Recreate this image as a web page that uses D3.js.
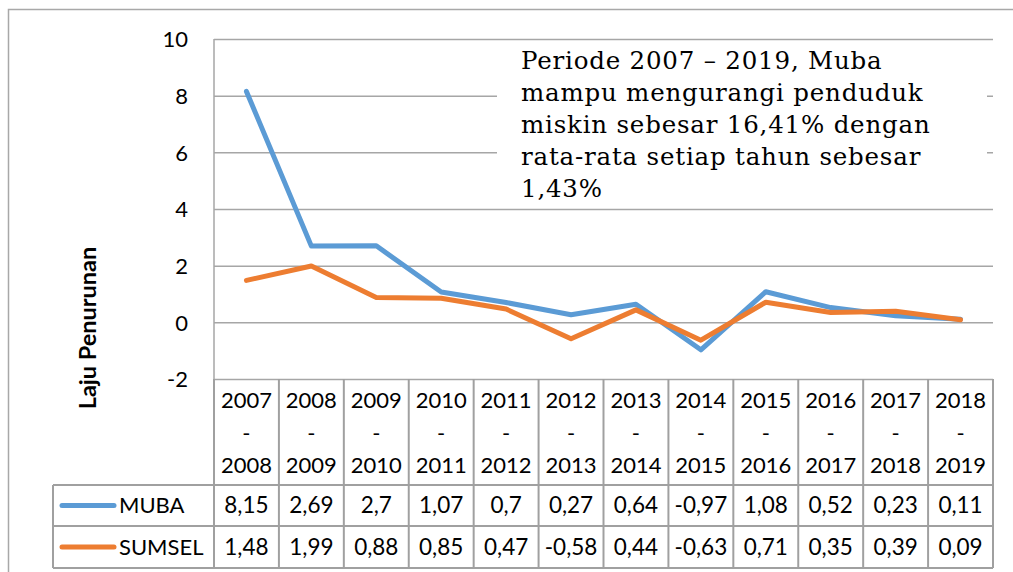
<!DOCTYPE html>
<html>
<head>
<meta charset="utf-8">
<script src="https://cdn.jsdelivr.net/npm/d3@7/dist/d3.min.js"></script>
<style>
  html, body { margin: 0; padding: 0; background: #fff; }
  svg { display: block; }
</style>
</head>
<body>
<svg id="chart" width="1013" height="572"></svg>
<script>
const periodStart = ["2007","2008","2009","2010","2011","2012","2013","2014","2015","2016","2017","2018"];
const periodEnd   = ["2008","2009","2010","2011","2012","2013","2014","2015","2016","2017","2018","2019"];
const categories = periodStart.map((s, i) => s + "-" + periodEnd[i]);
const muba   = [8.15, 2.69, 2.7, 1.07, 0.7, 0.27, 0.64, -0.97, 1.08, 0.52, 0.23, 0.11];
const sumsel = [1.48, 1.99, 0.88, 0.85, 0.47, -0.58, 0.44, -0.63, 0.71, 0.35, 0.39, 0.09];
const mubaLabels   = ["8,15","2,69","2,7","1,07","0,7","0,27","0,64","-0,97","1,08","0,52","0,23","0,11"];
const sumselLabels = ["1,48","1,99","0,88","0,85","0,47","-0,58","0,44","-0,63","0,71","0,35","0,39","0,09"];
const seriesNames = ["MUBA", "SUMSEL"];
const yTicks = [-2, 0, 2, 4, 6, 8, 10];
const yTitle = "Laju Penurunan";
const noteLines = [
  "Periode 2007 \u2013 2019, Muba",
  "mampu mengurangi penduduk",
  "miskin sebesar 16,41% dengan",
  "rata-rata setiap tahun sebesar",
  "1,43%"
];

const colors = { MUBA: "#5B9BD5", SUMSEL: "#ED7D31" };
const gridColor = "#A6A6A6";
const tableColor = "#A0A0A0";
const font = "Lato, 'Open Sans', sans-serif";

const svg = d3.select("#chart");
const plot = { left: 214, right: 993, top: 39, bottom: 379 };
const table = { legendLeft: 53, headerBottom: 485, row1Bottom: 526, row2Bottom: 568 };

const x = d3.scaleBand().domain(categories).range([plot.left, plot.right]).padding(0);
const y = d3.scaleLinear().domain([-2, 10]).range([plot.bottom, plot.top]);

// outer chart border
svg.append("path")
  .attr("d", `M8.5,572 L8.5,9.5 L1013,9.5`)
  .attr("fill", "none").attr("stroke", "#A8A8A8").attr("stroke-width", 1.5);

// gridlines via axis
const yAxis = d3.axisLeft(y).tickValues(yTicks).tickSize(-(plot.right - plot.left)).tickFormat(d => d);
const gy = svg.append("g").attr("transform", `translate(${plot.left},0)`).call(yAxis);
gy.select(".domain").remove();
gy.selectAll(".tick line").attr("stroke", gridColor).attr("stroke-width", 1.5);
gy.selectAll(".tick text")
  .attr("x", -26).attr("dy", "0.35em")
  .attr("font-family", font).attr("font-size", 22).attr("fill", "#000");

// left axis line
svg.append("line")
  .attr("x1", plot.left).attr("x2", plot.left)
  .attr("y1", plot.top).attr("y2", plot.bottom)
  .attr("stroke", gridColor).attr("stroke-width", 1.5);

// y-axis title
svg.append("text")
  .attr("transform", `translate(96,328) rotate(-90)`)
  .attr("text-anchor", "middle")
  .attr("font-family", font).attr("font-weight", "bold").attr("font-size", 23.5)
  .attr("fill", "#000")
  .text(yTitle);

// annotation white box (covers gridlines)
svg.append("rect")
  .attr("x", 497).attr("y", 46).attr("width", 490).attr("height", 158)
  .attr("fill", "#fff");
const note = svg.append("text")
  .attr("font-family", "'DejaVu Serif', 'Liberation Serif', serif")
  .attr("font-size", 24.5).attr("letter-spacing", 0.8).attr("fill", "#000");
noteLines.forEach((t, i) => {
  note.append("tspan").attr("x", 521).attr("y", 69 + i * 32).text(t);
});

// lines
const line = d3.line()
  .x((d, i) => x(categories[i]) + x.bandwidth() / 2)
  .y(d => y(d));
[["MUBA", muba], ["SUMSEL", sumsel]].forEach(([name, vals]) => {
  svg.append("path")
    .datum(vals)
    .attr("d", line)
    .attr("fill", "none")
    .attr("stroke", colors[name])
    .attr("stroke-width", 5)
    .attr("stroke-linejoin", "round")
    .attr("stroke-linecap", "round");
});

// data table
const tg = svg.append("g");
const bounds = categories.map(c => x(c)).concat([plot.right]);
bounds.forEach(bx => {
  tg.append("line")
    .attr("x1", bx).attr("x2", bx)
    .attr("y1", plot.bottom).attr("y2", table.row2Bottom)
    .attr("stroke", tableColor).attr("stroke-width", 2);
});
tg.append("line")
  .attr("x1", table.legendLeft).attr("x2", table.legendLeft)
  .attr("y1", table.headerBottom).attr("y2", table.row2Bottom)
  .attr("stroke", tableColor).attr("stroke-width", 2);
[table.headerBottom, table.row1Bottom, table.row2Bottom].forEach(hy => {
  tg.append("line")
    .attr("x1", table.legendLeft).attr("x2", plot.right)
    .attr("y1", hy).attr("y2", hy)
    .attr("stroke", tableColor).attr("stroke-width", 2);
});

categories.forEach((c, i) => {
  const cx = x(c) + x.bandwidth() / 2;
  [[periodStart[i], 400], ["-", 433], [periodEnd[i], 465]].forEach(([t, ty]) => {
    tg.append("text")
      .attr("x", cx).attr("y", ty).attr("dy", "0.35em")
      .attr("text-anchor", "middle")
      .attr("font-family", font).attr("font-size", 22).attr("fill", "#000")
      .text(t);
  });
});

const rows = [
  { name: seriesNames[0], labels: mubaLabels, top: table.headerBottom, bottom: table.row1Bottom },
  { name: seriesNames[1], labels: sumselLabels, top: table.row1Bottom, bottom: table.row2Bottom }
];
rows.forEach(r => {
  const cy = (r.top + r.bottom) / 2;
  tg.append("line")
    .attr("x1", 62).attr("x2", 114).attr("y1", cy).attr("y2", cy)
    .attr("stroke", colors[r.name]).attr("stroke-width", 5).attr("stroke-linecap", "round");
  tg.append("text")
    .attr("x", 119).attr("y", cy).attr("dy", "0.35em")
    .attr("font-family", font).attr("font-size", 22).attr("fill", "#000")
    .text(r.name);
  r.labels.forEach((lab, i) => {
    tg.append("text")
      .attr("x", x(categories[i]) + x.bandwidth() / 2).attr("y", cy).attr("dy", "0.35em")
      .attr("text-anchor", "middle")
      .attr("font-family", font).attr("font-size", 22.5).attr("fill", "#000")
      .text(lab);
  });
});
</script>
</body>
</html>
